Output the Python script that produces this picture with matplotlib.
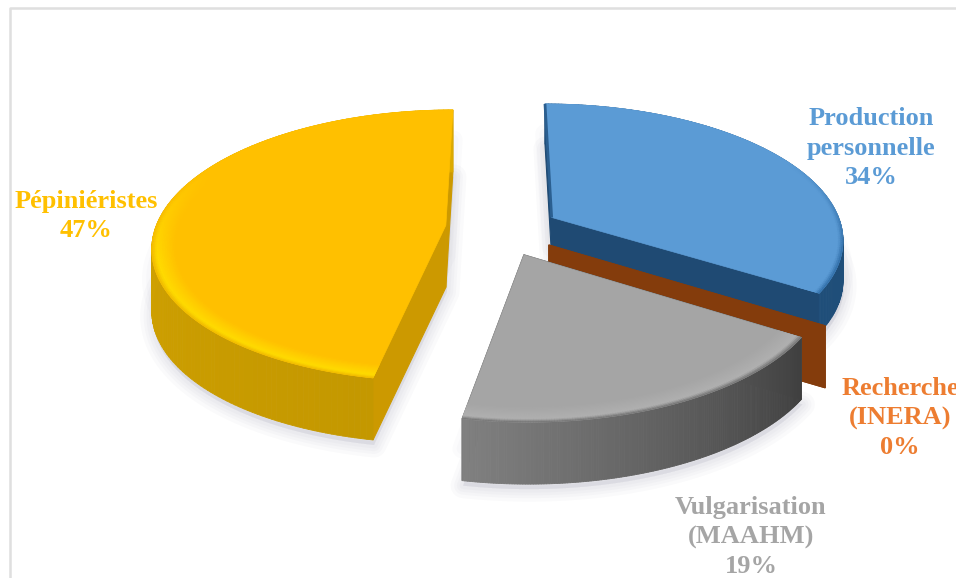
import numpy as np
import matplotlib
matplotlib.use('Agg')
import matplotlib.pyplot as plt
from matplotlib.collections import PolyCollection
from matplotlib.colors import to_rgb

# Share of each seed source (%)
labels = ['Production\npersonnelle', 'Recherche\n(INERA)', 'Vulgarisation\n(MAAHM)', 'Pépiniéristes']
values = [34, 0, 19, 47]

top_colors = ['#5b9bd5', '#ed7d31', '#a5a5a5', '#ffc000']
wall_colors = ['#1f4a73', '#843c0c', '#555555', '#cc9900']
rim_start = ['#1f4e79', '#843c0c', '#3f3f3f', '#c49800']
rim_end = ['#1f4e79', '#843c0c', '#808080', '#dcaa00']
bevel_edge = ['#2f6ca6', '#843c0c', '#6e6e6e', '#f0b800']
bevel_light = ['#5b9bd5', '#ed7d31', '#b0b0b0', '#ffdc00']
text_colors = ['#5b9bd5', '#ed7d31', '#a5a5a5', '#ffc000']

# How far each slice is pulled out, in the plane of the pie
explode = [(0.18, 0.095), (0.165, -0.11), (0.08, -0.18), (-0.187, 0.035)]
heights = [40, 62, 62, 62]
label_pos = [(871, 148), (900, 418), (751, 537), (86, 216)]

# Perspective of the pie plane
X0, Y0 = 500, 230
RX, RY = 291, 134
K = 0.15
START = 0.0


def project(u, v):
    w = 1 + K * v
    return X0 + RX * u / w, Y0 - RY * v / w


def mix(a, b, t):
    a, b = np.array(to_rgb(a)), np.array(to_rgb(b))
    return tuple(a + (b - a) * t)


def face(t0, t1, ex, ey, r=1.0, n=120):
    t = np.radians(np.linspace(t0, t1, n))
    x, y = project(ex + r * np.sin(t), ey + r * np.cos(t))
    ax_, ay_ = project(ex, ey)
    return np.column_stack([np.r_[ax_, x], np.r_[ay_, y]])


def add_shadow(ax, t0, t1, ex, ey, h):
    pts = face(t0, t1, ex, ey) + [1, h + 5]
    for lw in (18, 13, 9, 5):
        ax.fill(pts[:, 0], pts[:, 1], fc='#8f8fa8', ec='#8f8fa8', lw=lw, alpha=0.045,
                joinstyle='round', zorder=1)
    # light shadow behind the straight cut edges too
    pts = face(t0, t1, ex, ey) + [0, 30]
    for lw in (14, 8):
        ax.fill(pts[:, 0], pts[:, 1], fc='#8f8fa8', ec='#8f8fa8', lw=lw, alpha=0.03,
                joinstyle='round', zorder=1)


def draw_slice(ax, i, t0, t1, z):
    ex, ey = explode[i]
    h = heights[i]
    # flat walls on both cut edges
    for t in (t0, t1):
        rad = np.radians(t)
        x0, y0 = project(ex, ey)
        x1, y1 = project(ex + np.sin(rad), ey + np.cos(rad))
        wall = [(x0, y0), (x1, y1), (x1, y1 + h), (x0, y0 + h)]
        ax.add_patch(plt.Polygon(wall, fc=wall_colors[i], ec=wall_colors[i], lw=0.8, zorder=z))
    if t1 <= t0:
        return
    # outer rim as small shaded quads
    t = np.linspace(t0, t1, 160)
    x, y = project(ex + np.sin(np.radians(t)), ey + np.cos(np.radians(t)))
    quads, cols = [], []
    for j in range(len(t) - 1):
        quads.append([(x[j], y[j]), (x[j + 1], y[j + 1]),
                      (x[j + 1], y[j + 1] + h), (x[j], y[j] + h)])
        cols.append(mix(rim_start[i], rim_end[i], j / (len(t) - 2)))
    ax.add_collection(PolyCollection(quads, facecolors=cols, edgecolors=cols, linewidths=0.6, zorder=z))
    # top face, then a soft bevel along the arc that fades out towards the back
    ax.add_patch(plt.Polygon(face(t0, t1, ex, ey), fc=top_colors[i], ec=top_colors[i], lw=0.5, zorder=z))
    rings = np.linspace(1.0, 0.92, 15)
    quads, cols = [], []
    for j in range(len(t) - 1):
        tm = np.radians((t[j] + t[j + 1]) / 2)
        fade = np.clip((0.45 - np.cos(tm)) / 0.7, 0, 1)
        ta, tb = np.radians(t[j]), np.radians(t[j + 1])
        for k in range(len(rings) - 1):
            ra, rb = rings[k], rings[k + 1]
            f = (1.0 - (ra + rb) / 2) / 0.08
            if f < 0.22:
                c = mix(bevel_edge[i], bevel_light[i], f / 0.22)
            else:
                c = mix(bevel_light[i], top_colors[i], (f - 0.22) / 0.78)
            xq, yq = project(ex + np.array([ra, ra, rb, rb]) * np.sin([ta, tb, tb, ta]),
                             ey + np.array([ra, ra, rb, rb]) * np.cos([ta, tb, tb, ta]))
            quads.append(list(zip(xq, yq)))
            cols.append(mix(top_colors[i], c, fade))
    ax.add_collection(PolyCollection(quads, facecolors=cols, edgecolors=cols, linewidths=0.4, zorder=z))


fig = plt.figure(figsize=(9.56, 5.78), dpi=100, facecolor='white')
ax = fig.add_axes([0, 0, 1, 1])
ax.set_xlim(0, 956)
ax.set_ylim(578, 0)
ax.axis('off')

# page frame
ax.plot([956, 10, 10], [7.5, 7.5, 578], color='#dfdfdf', lw=1.8, zorder=0)

# cumulative angles, clockwise from twelve o'clock
edges = START + np.r_[0, np.cumsum(values)] / np.sum(values) * 360

# back to front: yellow, blue, orange wall, grey
z = 2
for i in (3, 0, 1, 2):
    t0, t1 = edges[i], edges[i + 1]
    if t1 > t0:
        add_shadow(ax, t0, t1, *explode[i], heights[i])
    draw_slice(ax, i, t0, t1, z + 1)
    if i == 0:
        # dark edge along the far cut of the blue slice
        xe, ye = project(np.array([explode[i][0], explode[i][0] + np.sin(np.radians(t0))]),
                         np.array([explode[i][1], explode[i][1] + np.cos(np.radians(t0))]))
        ax.plot(xe, ye, color='#2b5f90', lw=2.0, zorder=z + 1.5, solid_capstyle='butt')
    z += 2

for lab, val, col, pos in zip(labels, values, text_colors, label_pos):
    ax.text(pos[0], pos[1], f'{lab}\n{val}%', color=col, ha='center', va='center',
            family='Liberation Serif', weight='bold', fontsize=19, linespacing=1.35, zorder=20)

fig.savefig('out.png', dpi=100)
